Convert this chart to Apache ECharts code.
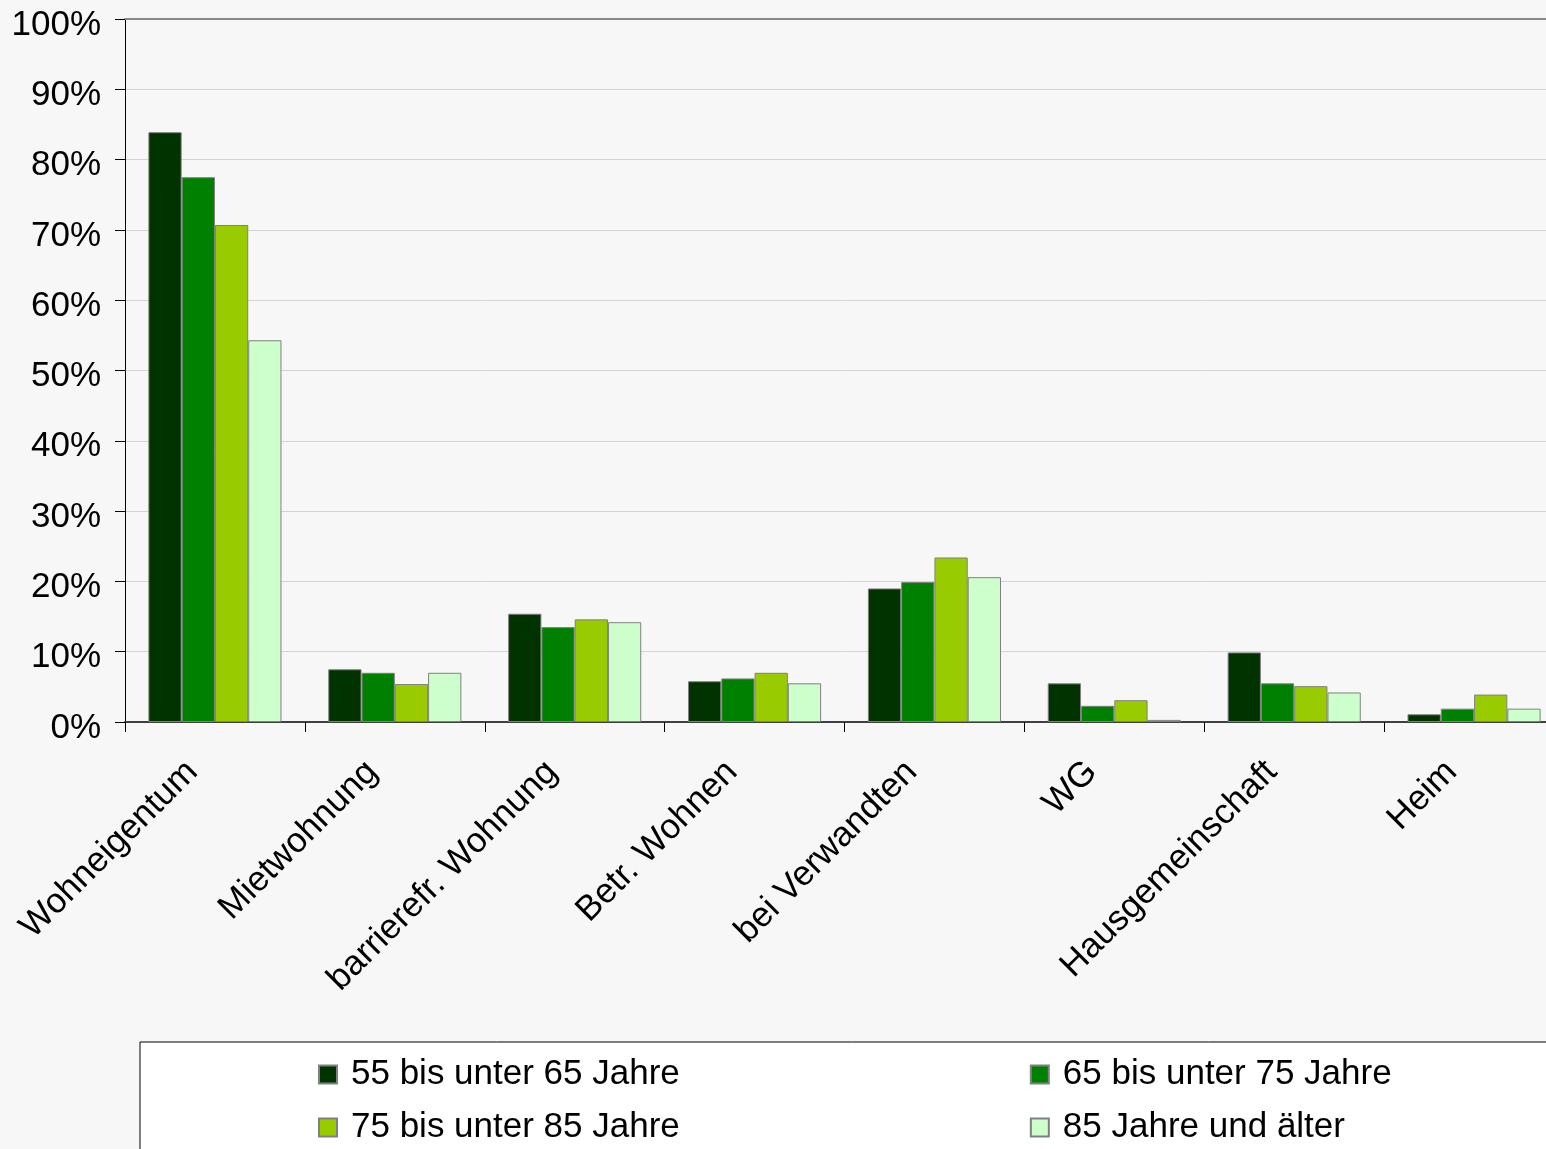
<!DOCTYPE html>
<html>
<head>
<meta charset="utf-8">
<script src="https://cdn.jsdelivr.net/npm/echarts@6/dist/echarts.min.js"></script>
<style>
html, body { margin: 0; padding: 0; background: #f7f7f7; overflow: hidden; }
#chart { width: 1564px; height: 1149px; }
</style>
</head>
<body>
<div id="chart"></div>
<script>
// Wohnformen nach Altersgruppen (Anteil in %)
var categories = ['Wohneigentum', 'Mietwohnung', 'barrierefr. Wohnung', 'Betr. Wohnen',
    'bei Verwandten', 'WG', 'Hausgemeinschaft', 'Heim'];
var seriesNames = ['55 bis unter 65 Jahre', '65 bis unter 75 Jahre',
    '75 bis unter 85 Jahre', '85 Jahre und älter'];
var age55 = [83.9, 7.5, 15.4, 5.8, 19.0, 5.5, 9.9, 1.1];
var age65 = [77.5, 7.0, 13.5, 6.2, 19.9, 2.3, 5.5, 1.9];
var age75 = [70.7, 5.4, 14.6, 7.0, 23.4, 3.1, 5.1, 3.9];
var age85 = [54.3, 7.0, 14.2, 5.5, 20.6, 0.3, 4.2, 1.9];
var colors = ['#003300', '#008000', '#99cc00', '#ccffcc'];

var font = 'Liberation Sans, Arial, sans-serif';
var allData = [age55, age65, age75, age85];

var series = allData.map(function (d, i) {
    return {
        name: seriesNames[i],
        type: 'bar',
        data: d,
        barGap: '0%',
        barCategoryGap: '26%',
        itemStyle: { color: colors[i], borderColor: '#808080', borderWidth: 1 }
    };
});

var legendText = { fontFamily: font, fontSize: 35, color: '#000', padding: [0, 0, 0, 9] };

var chart = echarts.init(document.getElementById('chart'));
chart.setOption({
    backgroundColor: '#f7f7f7',
    animation: false,
    grid: { left: 125, top: 19, right: 0, bottom: 427 },
    graphic: [{
        type: 'rect',
        shape: { x: 140, y: 1042, width: 1500, height: 200 },
        style: { fill: '#ffffff', stroke: '#000000', lineWidth: 1 },
        z: -1
    }],
    legend: [{
        data: [seriesNames[0], seriesNames[1]],
        left: 318, top: 1057, padding: 0, icon: 'rect',
        itemWidth: 18, itemHeight: 18, itemGap: 350,
        textStyle: legendText
    }, {
        data: [seriesNames[2], seriesNames[3]],
        left: 318, top: 1110, padding: 0, icon: 'rect',
        itemWidth: 18, itemHeight: 18, itemGap: 350,
        textStyle: legendText
    }],
    xAxis: [{
        type: 'category',
        data: categories,
        axisLine: { lineStyle: { color: '#404040', width: 2 } },
        axisTick: { show: true, length: 10, lineStyle: { color: '#000' } },
        axisLabel: {
            rotate: 45, margin: 22, interval: 0, padding: [0, 32, 0, 0],
            fontFamily: font, fontSize: 35, color: '#000'
        }
    }, {
        type: 'category',
        position: 'top',
        data: categories,
        axisLine: { lineStyle: { color: '#888888', width: 2 } },
        axisTick: { show: false },
        axisLabel: { show: false }
    }],
    yAxis: {
        type: 'value',
        min: 0, max: 100, interval: 10,
        axisLine: { show: true, lineStyle: { color: '#000' } },
        axisTick: { show: true, length: 10, lineStyle: { color: '#000' } },
        splitLine: { lineStyle: { color: '#d4d4d4', width: 1 } },
        axisLabel: {
            formatter: '{value}%', margin: 24,
            verticalAlign: 'top', lineHeight: 12,
            fontFamily: font, fontSize: 35, color: '#000'
        }
    },
    series: series
});
</script>
</body>
</html>
